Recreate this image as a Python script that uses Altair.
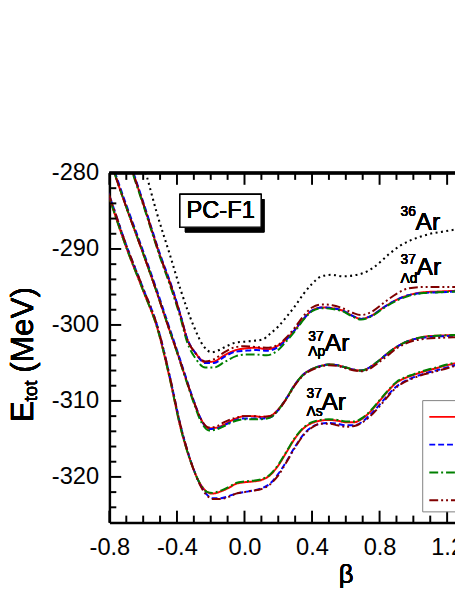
import altair as alt
import pandas as pd

# ---------------- data ----------------
INTERACTIONS = ["PCY-S1", "PCY-S2", "PCY-S3", "PCY-S4"]

# 36Ar (dotted black)
BETA_AR36 = [-0.62, -0.584, -0.52, -0.44, -0.378, -0.30, -0.242, -0.194, -0.15, -0.106,
             -0.048, 0.0, 0.05, 0.108, 0.15, 0.2, 0.25, 0.3, 0.35, 0.4, 0.456, 0.52,
             0.58, 0.64, 0.7, 0.76, 0.81, 0.86, 0.92, 0.98, 1.04, 1.1, 1.18, 1.26]
E_AR36 = [-277.2, -280.0, -285.2, -290.9, -295.4, -300.2, -302.8, -303.6, -303.3, -302.8,
          -302.3, -302.2, -302.1, -301.9, -301.2, -300.2, -298.9, -297.5, -295.9, -294.6,
          -293.6, -293.4, -293.6, -293.5, -293.2, -292.5, -291.6, -290.6, -289.6, -288.9,
          -288.4, -288.0, -287.7, -287.4]

# 37Ar, Lambda in s state
BETA_S = [-0.85, -0.80, -0.70, -0.60, -0.514, -0.44, -0.38, -0.32, -0.26, -0.22, -0.19,
          -0.14, -0.09, -0.05, 0.0, 0.05, 0.1, 0.15, 0.2, 0.25, 0.3, 0.35, 0.4, 0.45,
          0.5, 0.55, 0.6, 0.65, 0.7, 0.75, 0.8, 0.85, 0.9, 0.95, 1.0, 1.05, 1.1, 1.15,
          1.2, 1.26]
E_S_1 = [-280.0, -283.3, -289.8, -295.5, -300.6, -307.3, -313.4, -317.9, -321.0, -322.0,
         -322.2, -321.9, -321.4, -320.9, -320.7, -320.6, -320.4, -319.8, -318.5, -316.7,
         -314.9, -313.6, -312.9, -312.6, -312.5, -312.6, -312.8, -312.8, -312.3, -311.3,
         -310.0, -308.7, -307.6, -307.0, -306.6, -306.2, -305.9, -305.6, -305.3, -305.0]
E_S_2 = [-280.0, -283.0, -289.5, -295.2, -300.3, -307.0, -313.1, -317.8, -321.1, -322.4,
         -322.8, -322.8, -322.5, -322.2, -322.0, -321.8, -321.5, -320.9, -319.6, -317.9,
         -316.0, -314.4, -313.4, -313.0, -312.9, -313.0, -313.2, -313.2, -312.7, -311.7,
         -310.5, -309.2, -308.1, -307.4, -306.9, -306.5, -306.2, -305.9, -305.6, -305.2]
E_S_3 = [-280.0, -283.3, -289.8, -295.5, -300.6, -307.3, -313.4, -317.9, -321.0, -322.0,
         -322.1, -321.8, -321.3, -320.8, -320.6, -320.5, -320.3, -319.7, -318.4, -316.6,
         -314.8, -313.5, -312.8, -312.5, -312.4, -312.5, -312.7, -312.7, -312.2, -311.2,
         -309.9, -308.6, -307.5, -306.9, -306.5, -306.1, -305.8, -305.5, -305.2, -304.9]
E_S_4 = [-280.0, -283.0, -289.5, -295.2, -300.3, -307.0, -313.1, -317.8, -321.2, -322.5,
         -322.9, -322.9, -322.6, -322.2, -322.0, -321.8, -321.6, -321.0, -319.8, -318.0,
         -316.1, -314.5, -313.5, -313.0, -313.0, -313.2, -313.4, -313.3, -312.8, -311.9,
         -310.7, -309.4, -308.2, -307.5, -307.0, -306.6, -306.3, -306.0, -305.7, -305.3]

# 37Ar, Lambda in p state
BETA_P = [-0.80, -0.77, -0.70, -0.60, -0.524, -0.45, -0.40, -0.36, -0.30, -0.26, -0.21,
          -0.16, -0.12, -0.05, 0.0, 0.05, 0.1, 0.15, 0.2, 0.25, 0.3, 0.35, 0.4, 0.45, 0.5,
          0.55, 0.6, 0.65, 0.69, 0.74, 0.79, 0.85, 0.9, 0.95, 1.0, 1.08, 1.16, 1.26]
E_P_1 = [-277.9, -280.0, -284.5, -290.6, -295.4, -300.3, -303.5, -306.2, -310.1, -312.3,
         -313.6, -313.5, -313.1, -312.3, -312.0, -312.0, -312.1, -312.0, -311.1, -309.6,
         -307.8, -306.5, -305.8, -305.4, -305.2, -305.3, -305.6, -305.9, -306.0, -305.6,
         -304.8, -303.7, -302.9, -302.3, -301.9, -301.5, -301.4, -301.3]
E_P_2 = [-277.6, -279.7, -284.2, -290.3, -295.1, -300.0, -303.3, -306.0, -310.0, -312.3,
         -313.7, -313.6, -313.2, -312.5, -312.3, -312.3, -312.3, -312.2, -311.2, -309.6,
         -307.8, -306.5, -305.8, -305.4, -305.2, -305.3, -305.6, -305.9, -306.0, -305.6,
         -304.8, -303.7, -302.9, -302.3, -301.9, -301.6, -301.5, -301.4]
E_P_3 = [-277.9, -280.0, -284.5, -290.6, -295.4, -300.3, -303.6, -306.3, -310.3, -312.6,
         -313.9, -313.7, -313.3, -312.6, -312.4, -312.4, -312.4, -312.2, -311.2, -309.6,
         -307.8, -306.5, -305.8, -305.4, -305.2, -305.3, -305.6, -305.9, -306.0, -305.6,
         -304.8, -303.7, -302.9, -302.3, -301.9, -301.5, -301.4, -301.3]
E_P_4 = [-277.9, -280.0, -284.5, -290.6, -295.4, -300.3, -303.5, -306.2, -310.1, -312.3,
         -313.5, -313.3, -312.8, -312.2, -312.0, -312.0, -312.1, -312.0, -311.2, -309.7,
         -307.9, -306.6, -305.9, -305.5, -305.3, -305.4, -305.7, -306.0, -306.1, -305.8,
         -305.0, -304.0, -303.1, -302.5, -302.1, -301.8, -301.7, -301.6]

# 37Ar, Lambda in d state
BETA_D = [-0.69, -0.66, -0.60, -0.50, -0.427, -0.38, -0.339, -0.29, -0.233, -0.18, -0.12,
          -0.05, 0.0, 0.07, 0.13, 0.2, 0.25, 0.3, 0.35, 0.4, 0.46, 0.52, 0.58, 0.64, 0.69,
          0.75, 0.83, 0.9, 0.97, 1.06, 1.15, 1.26]
E_D_1 = [-278.0, -280.0, -284.0, -290.9, -295.4, -298.7, -301.9, -303.7, -304.9, -304.8,
         -304.0, -303.3, -303.1, -303.0, -303.2, -302.7, -301.8, -300.6, -299.2, -298.1,
         -297.7, -297.8, -298.1, -298.8, -299.2, -298.8, -297.6, -296.7, -296.1, -295.7,
         -295.6, -295.5]
E_D_2 = [-277.8, -279.8, -283.8, -290.7, -295.2, -298.6, -301.8, -303.7, -305.0, -305.0,
         -304.2, -303.5, -303.4, -303.3, -303.4, -302.9, -301.9, -300.6, -299.2, -298.1,
         -297.7, -297.8, -298.1, -298.8, -299.2, -298.8, -297.6, -296.7, -296.1, -295.8,
         -295.7, -295.6]
E_D_3 = [-278.2, -280.2, -284.2, -291.1, -295.7, -299.0, -302.3, -304.4, -305.6, -305.6,
         -304.9, -304.1, -303.9, -303.9, -304.0, -303.3, -302.1, -300.8, -299.3, -298.2,
         -297.8, -297.9, -298.2, -298.9, -299.3, -298.9, -297.7, -296.8, -296.2, -295.8,
         -295.7, -295.6]
E_D_4 = [-278.0, -280.0, -284.0, -290.9, -295.4, -298.7, -301.9, -303.7, -304.8, -304.5,
         -303.6, -302.9, -302.8, -302.9, -303.0, -302.6, -301.6, -300.3, -298.8, -297.7,
         -297.3, -297.4, -297.8, -298.4, -298.7, -298.3, -297.0, -295.9, -295.2, -295.0,
         -295.0, -295.0]

X_MAJOR = [-0.8, -0.4, 0.0, 0.4, 0.8, 1.2]
X_MINOR = [-0.7, -0.6, -0.5, -0.3, -0.2, -0.1, 0.1, 0.2, 0.3, 0.5, 0.6, 0.7, 0.9, 1.0, 1.1]
Y_MAJOR = [-320, -310, -300, -290, -280]
Y_MINOR = [-324, -322, -318, -316, -314, -312, -308, -306, -304, -302, -298, -296, -294,
           -292, -288, -286, -284, -282]

# ---------------- styling ----------------
FONT = "Liberation Sans"
COLORS = ["#FF0000", "#0000FF", "#008000", "#800000"]
DASHES = [[1, 0], [6, 3], [9, 3, 2, 3], [9, 3, 2, 3, 2, 3]]
W, H = 351, 355

rows = []
for state, grid, series in [("s", BETA_S, [E_S_1, E_S_2, E_S_3, E_S_4]),
                            ("p", BETA_P, [E_P_1, E_P_2, E_P_3, E_P_4]),
                            ("d", BETA_D, [E_D_1, E_D_2, E_D_3, E_D_4])]:
    for name, vals in zip(INTERACTIONS, series):
        for b, e in zip(grid, vals):
            rows.append({"beta": b, "E": e, "state": state, "inter": name})
df_hyp = pd.DataFrame(rows)
df_ar = pd.DataFrame({"beta": BETA_AR36, "E": E_AR36})

xscale = alt.Scale(domain=[-0.8, -0.8 + W / 171.5], nice=False, zero=False)
yscale = alt.Scale(domain=[-326, -280], nice=False, zero=False)

xaxis = alt.Axis(values=X_MAJOR, ticks=False, grid=False, title=None,
                 labelExpr="replace(format(datum.value, '.1f'), '\u2212', '-')",
                 labelFont=FONT, labelFontSize=24, labelColor="black", labelPadding=14,
                 domainColor="black", domainWidth=2.5, labelFlush=False, labelOverlap=False)
yaxis = alt.Axis(values=Y_MAJOR, ticks=False, grid=False, title=None,
                 labelExpr="replace(format(datum.value, 'd'), '\u2212', '-')",
                 labelFont=FONT, labelFontSize=24, labelColor="black", labelPadding=11,
                 domainColor="black", domainWidth=2.5)

legend = alt.Legend(title=None, orient="none", legendX=317.7, legendY=230.7,
                    symbolType="stroke", symbolSize=760, symbolStrokeWidth=2,
                    symbolOffset=4, padding=2, rowPadding=4.2, strokeColor="#808080",
                    fillColor="white", labelFont=FONT, labelFontSize=18, labelOffset=30)

ar36 = alt.Chart(df_ar).mark_line(clip=True, color="black", strokeWidth=2.1,
                                  strokeDash=[2, 3.5], interpolate="monotone").encode(
    x=alt.X("beta:Q", scale=xscale, axis=xaxis),
    y=alt.Y("E:Q", scale=yscale, axis=yaxis),
)

hyp = alt.Chart(df_hyp).mark_line(clip=True, strokeWidth=2, interpolate="monotone").encode(
    x=alt.X("beta:Q", scale=xscale, axis=xaxis),
    y=alt.Y("E:Q", scale=yscale, axis=yaxis),
    color=alt.Color("inter:N", scale=alt.Scale(domain=INTERACTIONS, range=COLORS), legend=legend),
    strokeDash=alt.StrokeDash("inter:N", scale=alt.Scale(domain=INTERACTIONS, range=DASHES),
                              legend=legend),
    detail="state:N",
)

# axis ticks pointing inward (drawn through the scales)
dxM = pd.DataFrame({"beta": X_MAJOR})
dxm = pd.DataFrame({"beta": X_MINOR})
dyM = pd.DataFrame({"E": Y_MAJOR})
dym = pd.DataFrame({"E": Y_MINOR})

def xticks(d, length):
    bottom = alt.Chart(d).mark_rule(color="black", strokeWidth=2).encode(
        x=alt.X("beta:Q", scale=xscale, axis=xaxis), y=alt.value(H), y2=alt.value(H - length))
    top = alt.Chart(d).mark_rule(color="black", strokeWidth=2).encode(
        x=alt.X("beta:Q", scale=xscale, axis=xaxis), y=alt.value(0), y2=alt.value(length))
    return [bottom, top]

def yticks(d, length):
    return [alt.Chart(d).mark_rule(color="black", strokeWidth=2).encode(
        y=alt.Y("E:Q", scale=yscale, axis=yaxis), x=alt.value(0), x2=alt.value(length))]

top_border = alt.Chart(dxM).mark_rule(color="black", strokeWidth=2.5).encode(
    x=alt.value(0), x2=alt.value(W), y=alt.value(0))

def txt(s, x, y, size, angle=0, align="left", baseline="alphabetic"):
    kw = dict(text=s, font=FONT, fontSize=size, fontWeight="normal", color="black",
              align=align, baseline=baseline)
    if angle:
        kw["angle"] = angle
    return alt.Chart(dxM).mark_text(**kw).encode(x=alt.value(x), y=alt.value(y))

# PC-F1 label box
shadow = alt.Chart(dxM).mark_rect(color="black").encode(
    x=alt.value(76.7), x2=alt.value(157.3), y=alt.value(26.7), y2=alt.value(60.3))
box = alt.Chart(dxM).mark_rect(fill="white", stroke="black", strokeWidth=1.2).encode(
    x=alt.value(71.7), x2=alt.value(154), y=alt.value(21.7), y2=alt.value(55))

texts = [
    txt("PC-F1", 113, 39, 24, align="center", baseline="middle"),
    txt("36", 295.7, 44, 14), txt("Ar", 311, 57.5, 25),
    txt("37", 295.7, 92.5, 14), txt("Ar", 312, 104, 25), txt("\u039bd", 295.7, 112, 14),
    txt("37", 202, 170.7, 14), txt("Ar", 218.7, 180.7, 25), txt("\u039bp", 202, 186, 14),
    txt("37", 200.3, 229, 14), txt("Ar", 215.3, 240.7, 25), txt("\u039bs", 200.3, 247.3, 14),
    # y-axis title E_tot (MeV)
    txt("E", -78, 253, 32, angle=270), txt("tot", -74, 232, 19, angle=270),
    txt("(MeV)", -78, 203, 32, angle=270),
    # x-axis title
    txt("\u03b2", 240.5, 416.5, 26, align="center"),
]

layers = ([ar36, hyp] + xticks(dxM, 12) + xticks(dxm, 7) + yticks(dyM, 12) + yticks(dym, 7)
          + [top_border, shadow, box] + texts)

chart = alt.layer(*layers).properties(
    width=W, height=H,
    padding={"left": 103, "top": 163, "right": 0, "bottom": 65},
    autosize=alt.AutoSizeParams(type="none"),
).configure_view(stroke=None).configure(background="white")

chart.save("out.html", embed_options={"renderer": "svg", "actions": False})
